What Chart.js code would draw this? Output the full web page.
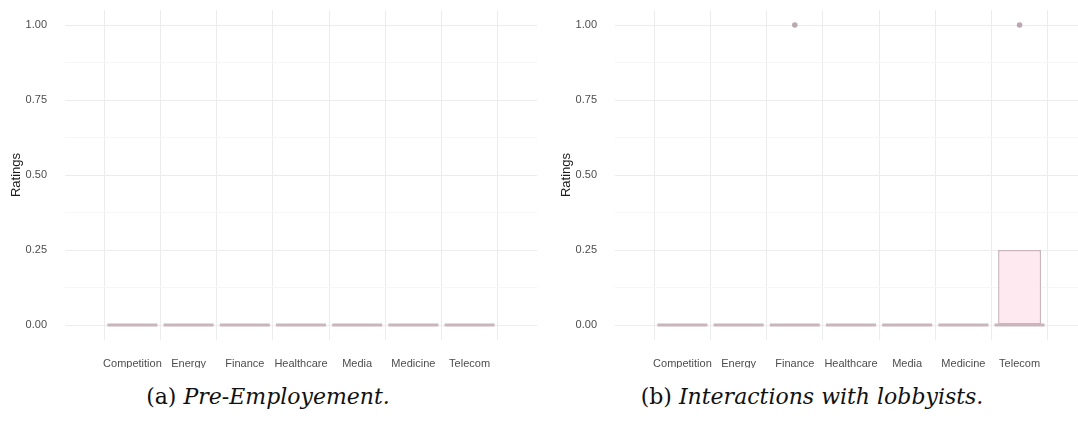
<!DOCTYPE html>
<html>
<head>
<meta charset="utf-8">
<script src="https://cdn.jsdelivr.net/npm/chart.js@4"></script>
<style>
    html, body { margin: 0; padding: 0; background: #fff; overflow: hidden; }
    body { width: 1078px; height: 434px; position: relative; }
    .panel { position: absolute; top: 0; height: 380px; }
    .caption {
        position: absolute; top: 384px; font-family: "DejaVu Serif", "Liberation Serif", serif;
        font-size: 22px; color: #111; white-space: nowrap; transform: translateX(-50%);
    }
    .caption i { font-style: italic; }
</style>
</head>
<body>
<div class="panel" style="left:0;width:537px;"><canvas id="preChart"></canvas></div>
<div class="panel" style="left:550px;width:537px;"><canvas id="lobbyChart"></canvas></div>
<div class="caption" style="left:268px;">(a) <i>Pre-Employement.</i></div>
<div class="caption" style="left:812px;">(b) <i>Interactions with lobbyists.</i></div>
<script>
// Categories and tick labels
var categories = ['Competition', 'Energy', 'Finance', 'Healthcare', 'Media', 'Medicine', 'Telecom'];
var yTicks = [0, 0.25, 0.5, 0.75, 1];
var yTickLabels = ['0.00', '0.25', '0.50', '0.75', '1.00'];
var yMinorTicks = [0.125, 0.375, 0.625, 0.875];

// (a) Pre-Employement box stats
var preQ1 = [0, 0, 0, 0, 0, 0, 0];
var preMedian = [0, 0, 0, 0, 0, 0, 0];
var preQ3 = [0, 0, 0, 0, 0, 0, 0];
var preOutlierCats = [];
var preOutlierValues = [];

// (b) Interactions with lobbyists box stats
var lobbyQ1 = [0, 0, 0, 0, 0, 0, 0];
var lobbyMedian = [0, 0, 0, 0, 0, 0, 0];
var lobbyQ3 = [0, 0, 0, 0, 0, 0, 0.25];
var lobbyOutlierCats = ['Finance', 'Telecom'];
var lobbyOutlierValues = [1, 1];

var lineColor = '#c9b5bc';
var boxFill = '#fde9ef';
var pointColor = '#b9aab1';

function createChart(id, q1, median, q3, outCats, outValues) {
    var ctx = document.getElementById(id).getContext('2d');
    var allY = yTicks.concat(yMinorTicks).sort(function(a, b) { return a - b; });

    return new Chart(ctx, {
        type: 'bar',
        data: {
            datasets: [{
                // outliers
                type: 'line',
                order: 0,
                showLine: false,
                data: outCats.map(function(c, i) {
                    return { x: categories.indexOf(c), y: outValues[i] };
                }),
                pointRadius: 2.8,
                pointBackgroundColor: pointColor,
                pointBorderWidth: 0
            }, {
                // medians
                type: 'line',
                order: 1,
                showLine: false,
                data: median.map(function(v, i) { return { x: i, y: v }; }),
                pointStyle: 'line',
                pointRadius: 25,
                pointBorderWidth: 3,
                pointBorderColor: lineColor
            }, {
                // boxes
                order: 2,
                data: q1.map(function(v, i) { return { x: i, y: [v, q3[i]] }; }),
                backgroundColor: boxFill,
                borderColor: lineColor,
                borderWidth: 1.5,
                borderSkipped: false,
                barPercentage: 0.85,
                categoryPercentage: 0.9
            }]
        },
        options: {
            responsive: false,
            animation: false,
            events: [],
            layout: { autoPadding: false, padding: { left: 5, top: 10, right: 0, bottom: 12 } },
            plugins: { legend: { display: false }, tooltip: { enabled: false } },
            scales: {
                x: {
                    type: 'linear',
                    min: -0.6,
                    max: 6.6,
                    afterBuildTicks: function(scale) {
                        scale.ticks = categories.map(function(c, i) { return { value: i }; });
                    },
                    afterFit: function(scale) {
                        scale.paddingLeft = 0;
                        scale.paddingRight = 0;
                        scale.height = 28;
                    },
                    ticks: {
                        autoSkip: false,
                        maxRotation: 0,
                        padding: 17,
                        color: '#4d4d4d',
                        font: { family: 'Liberation Sans, Arial, sans-serif', size: 11 },
                        callback: function(v) { return categories[v]; }
                    },
                    grid: { color: '#ececec', lineWidth: 1, drawTicks: false },
                    border: { display: false }
                },
                y: {
                    min: -0.05,
                    max: 1.05,
                    afterBuildTicks: function(scale) {
                        scale.ticks = allY.map(function(v) { return { value: v }; });
                    },
                    afterFit: function(scale) {
                        scale.paddingTop = 0;
                        scale.paddingBottom = 0;
                        scale.width = 60;
                    },
                    ticks: {
                        autoSkip: false,
                        padding: 18,
                        color: '#4d4d4d',
                        font: { family: 'Liberation Sans, Arial, sans-serif', size: 11 },
                        callback: function(v) {
                            var k = yTicks.indexOf(v);
                            return k >= 0 ? yTickLabels[k] : '';
                        }
                    },
                    grid: {
                        drawTicks: false,
                        color: function(c) {
                            return yTicks.indexOf(c.tick.value) >= 0 ? '#ececec' : '#f6f6f6';
                        }
                    },
                    border: { display: false },
                    title: {
                        display: true,
                        text: 'Ratings',
                        color: '#1a1a1a',
                        padding: { top: 4, bottom: 4 },
                        font: { family: 'Liberation Sans, Arial, sans-serif', size: 13 }
                    }
                }
            }
        }
    });
}

document.getElementById('preChart').width = 537;
document.getElementById('preChart').height = 380;
document.getElementById('lobbyChart').width = 537;
document.getElementById('lobbyChart').height = 380;

createChart('preChart', preQ1, preMedian, preQ3, preOutlierCats, preOutlierValues);
createChart('lobbyChart', lobbyQ1, lobbyMedian, lobbyQ3, lobbyOutlierCats, lobbyOutlierValues);
</script>
</body>
</html>
